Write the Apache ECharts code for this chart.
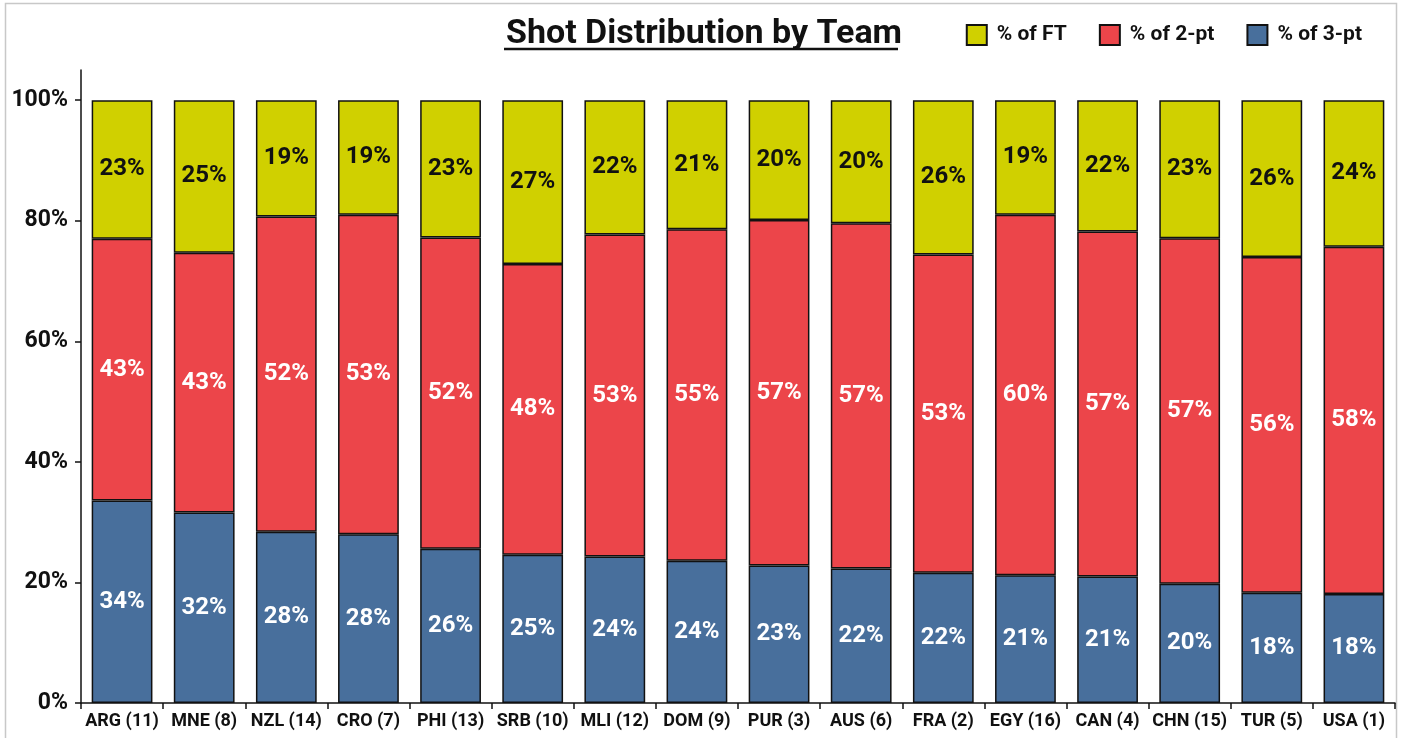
<!DOCTYPE html>
<html>
<head>
<meta charset="utf-8">
<script src="https://cdn.jsdelivr.net/npm/echarts@6/dist/echarts.min.js"></script>
<style>
  html, body { margin: 0; padding: 0; background: #fff; }
  #chart { width: 1403px; height: 738px; }
</style>
</head>
<body>
<div id="chart"></div>
<script>
// teams (rank in brackets)
var teams = ['ARG (11)', 'MNE (8)', 'NZL (14)', 'CRO (7)', 'PHI (13)', 'SRB (10)', 'MLI (12)', 'DOM (9)',
  'PUR (3)', 'AUS (6)', 'FRA (2)', 'EGY (16)', 'CAN (4)', 'CHN (15)', 'TUR (5)', 'USA (1)']
// share of shots, %
var pct3pt = [33.6, 31.6, 28.4, 28.0, 25.6, 24.6, 24.3, 23.6, 22.8, 22.3, 21.6, 21.2, 21.0, 19.8, 18.3, 18.1]
var pct2pt = [43.4, 43.1, 52.3, 53.0, 51.6, 48.2, 53.4, 55.0, 57.3, 57.3, 52.8, 59.8, 57.2, 57.3, 55.7, 57.6]
var pctFT = [23.0, 25.3, 19.3, 19.0, 22.8, 27.2, 22.3, 21.4, 19.9, 20.4, 25.6, 19.0, 21.8, 22.9, 26.0, 24.3]
var yTicks = [0, 20, 40, 60, 80, 100]

var chart = echarts.init(document.getElementById('chart'))

function seg(name, data, color, labelColor) {
  return {
    name: name,
    type: 'bar',
    stack: 'total',
    data: data,
    barWidth: '74%',
    itemStyle: { color: color, borderColor: '#111', borderWidth: 1.5 },
    label: {
      show: true,
      position: 'inside',
      color: labelColor,
      fontFamily: 'Roboto',
      fontWeight: 'bold',
      fontSize: 24,
      formatter: function (p) { return Math.round(p.value) + '%' }
    }
  }
}

chart.setOption({
  animation: false,
  textStyle: { fontFamily: 'Roboto' },
  title: {
    text: 'Shot Distribution by Team',
    left: 699,
    textAlign: 'center',
    top: 12,
    textStyle: { fontFamily: 'Roboto', fontWeight: 'bold', fontSize: 34, color: '#111' }
  },
  graphic: [
    {
      type: 'rect', silent: true, z: -1,
      shape: { x: 5.5, y: 3.5, width: 1391, height: 740 },
      style: { fill: 'none', stroke: '#c8c8c8', lineWidth: 1.5 }
    },
    {
      // title underline
      type: 'line', silent: true,
      shape: { x1: 504, y1: 49, x2: 898, y2: 49 },
      style: { stroke: '#111', lineWidth: 2.5 }
    }
  ],
  legend: {
    data: ['% of FT', '% of 2-pt', '% of 3-pt'],
    right: 36,
    top: 19,
    itemWidth: 20,
    itemHeight: 20,
    itemGap: 32,
    icon: 'rect',
    textStyle: { fontFamily: 'Roboto', fontWeight: 'bold', fontSize: 21, color: '#111', padding: [0, 0, 0, 5] }
  },
  grid: { left: 81, right: 8, top: 70, bottom: 35, containLabel: false },
  xAxis: {
    type: 'category',
    data: teams,
    axisLine: { lineStyle: { color: '#111', width: 1.5 } },
    axisTick: { show: true, length: 6, lineStyle: { color: '#111', width: 1.5 } },
    axisLabel: { color: '#111', fontFamily: 'Roboto', fontWeight: 'bold', fontSize: 18, margin: 9, interval: 0 }
  },
  yAxis: {
    type: 'value',
    min: 0,
    max: 105,
    interval: 20,
    splitLine: { show: false },
    axisLine: { show: true, lineStyle: { color: '#111', width: 1.5 } },
    axisTick: { show: true, length: 6, customValues: yTicks, lineStyle: { color: '#111', width: 1.5 } },
    axisLabel: {
      customValues: yTicks,
      color: '#111', fontFamily: 'Roboto', fontWeight: 'bold', fontSize: 23, margin: 13,
      formatter: '{value}%'
    }
  },
  series: [
    seg('% of 3-pt', pct3pt, '#486f9c', '#fff'),
    seg('% of 2-pt', pct2pt, '#ec454a', '#fff'),
    seg('% of FT', pctFT, '#d0d000', '#111')
  ]
})
</script>
</body>
</html>
